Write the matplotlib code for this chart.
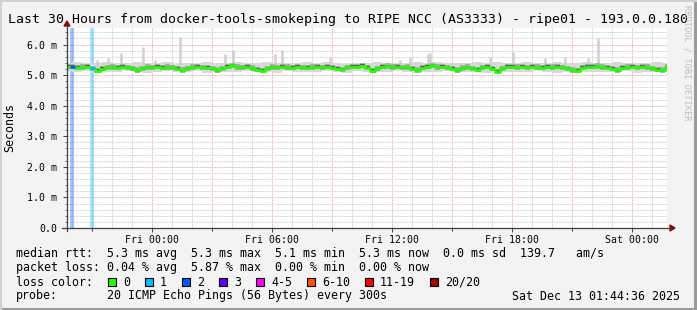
import matplotlib
matplotlib.use("Agg")
import matplotlib.pyplot as plt
from matplotlib.lines import Line2D
from matplotlib.patches import Rectangle, Polygon
import numpy as np

# ---- data (hours since Thu 19:45, values in ms) ----
median = [5.27, 5.28, 5.24, 5.26, 5.27, 5.22, 5.14, 5.20, 5.25, 5.26,
          5.24, 5.27, 5.25, 5.22, 5.16, 5.22, 5.26, 5.25, 5.27, 5.24,
          5.26, 5.25, 5.20, 5.16, 5.22, 5.26, 5.27, 5.25, 5.24, 5.22,
          5.16, 5.22, 5.27, 5.32, 5.26, 5.25, 5.27, 5.23, 5.18, 5.15,
          5.22, 5.26, 5.25, 5.27, 5.26, 5.24, 5.27, 5.25, 5.24, 5.26,
          5.28, 5.25, 5.27, 5.24, 5.20, 5.19, 5.25, 5.27, 5.28, 5.30,
          5.24, 5.15, 5.22, 5.27, 5.29, 5.26, 5.28, 5.25, 5.26, 5.21,
          5.16, 5.24, 5.27, 5.32, 5.26, 5.28, 5.25, 5.21, 5.16, 5.23,
          5.26, 5.22, 5.18, 5.25, 5.27, 5.20, 5.11, 5.22, 5.27, 5.28,
          5.26, 5.27, 5.25, 5.28, 5.26, 5.24, 5.27, 5.26, 5.28, 5.25,
          5.22, 5.16, 5.14, 5.24, 5.28, 5.27, 5.29, 5.26, 5.24, 5.20,
          5.16, 5.24, 5.26, 5.27, 5.25, 5.27, 5.26, 5.22, 5.17, 5.16,
          5.26]
loss = [0] * len(median)
loss[1] = 2
loss[5] = 1

smoke_hi = [5.40, 5.42, 5.38, 5.41, 5.44, 5.39, 5.40, 5.43, 5.38, 5.40,
            5.42, 5.37, 5.41, 5.39, 5.44, 5.40, 5.38, 5.42, 5.41, 5.39,
            5.43, 5.40, 5.38, 5.41, 5.42, 5.39, 5.44, 5.40, 5.37, 5.41,
            5.40, 5.43, 5.39, 5.41, 5.38, 5.42, 5.40, 5.44, 5.39, 5.41,
            5.38, 5.42, 5.40, 5.43, 5.39, 5.41, 5.42, 5.38, 5.40, 5.44,
            5.39, 5.41, 5.43, 5.38, 5.40, 5.42, 5.39, 5.41, 5.40, 5.43, 5.38]
smoke_lo = [5.12, 5.10, 5.13, 5.08, 5.11, 5.09, 5.12, 5.10, 5.08, 5.11,
            5.13, 5.09, 5.10, 5.12, 5.08, 5.11, 5.10, 5.09, 5.12, 5.10,
            5.11, 5.08, 5.12, 5.10, 5.09, 5.11, 5.13, 5.10, 5.08, 5.12,
            5.10, 5.11, 5.09, 5.12, 5.10, 5.08, 5.11, 5.10, 5.12, 5.09,
            5.11, 5.10, 5.08, 5.12, 5.10, 5.11, 5.09, 5.12, 5.10, 5.08,
            5.11, 5.12, 5.10, 5.09, 5.11, 5.10, 5.12, 5.08, 5.11, 5.10, 5.12]

spike_t = [1.5, 2.05, 2.7, 3.8, 4.4, 5.65, 7.9, 8.3, 10.4, 10.75, 13.15,
           16.65, 17.15, 18.05, 18.15, 21.15, 22.3, 23.9, 24.9, 26.05, 26.55]
spike_top = [5.5, 5.55, 5.73, 5.93, 5.5, 6.26, 5.7, 5.82, 5.7, 5.82, 5.6,
             5.5, 5.6, 5.7, 5.71, 5.58, 5.76, 5.55, 5.6, 5.55, 6.2]

tick_labels = ["Fri 00:00", "Fri 06:00", "Fri 12:00", "Fri 18:00", "Sat 00:00"]
tick_hours = [4.25, 10.25, 16.25, 22.25, 28.25]

loss_labels = ["0", "1", "2", "3", "4-5", "6-10", "11-19", "20/20"]
loss_colors = ["#26ff00", "#00b8ff", "#0059ff", "#5e00ff", "#ff00ff",
               "#ff5500", "#ff0000", "#a10000"]

rtt_stats = ["5.3 ms avg", "5.3 ms max", "5.1 ms min", "5.3 ms now", "0.0 ms sd", "139.7   am/s"]
loss_stats = ["0.04 % avg", "5.87 % max", "0.00 % min", "0.00 % now"]

title = "Last 30 Hours from docker-tools-smokeping to RIPE NCC (AS3333) - ripe01 - 193.0.0.180"
probe = "20 ICMP Echo Pings (56 Bytes) every 300s"
stamp = "Sat Dec 13 01:44:36 2025"

# ---- figure ----
W, H = 697, 310
MONO = "DejaVu Sans Mono"
plt.rcParams["font.family"] = MONO

fig = plt.figure(figsize=(W / 100, H / 100), dpi=100, facecolor="#f3f3f3")


def fx(px):
    return px / W


def fy(py):
    return 1 - py / H


ax = fig.add_axes([fx(67), fy(228), fx(667) - fx(67), fy(28) - fy(228)])
ax.set_facecolor("white")
ax.set_xlim(0, 30)
ax.set_ylim(0, 6.54)

# grid
minor_c, major_c = "#d6d6d6", "#ecbcbc"
dash = (0, (2, 1))
for h in np.arange(0.25, 30, 1.0):
    if abs((h - 1.25) % 3) > 0.01:
        ax.axvline(h, color=minor_c, lw=0.72, ls=dash, zorder=0)
for h in np.arange(1.25, 30, 3.0):
    ax.axvline(h, color=major_c, lw=0.72, ls=dash, zorder=0)
for v in np.arange(0.2, 6.54, 0.2):
    if abs(v - round(v)) > 0.01:
        ax.axhline(v, color=minor_c, lw=0.72, ls=dash, zorder=0)
for v in range(1, 7):
    ax.axhline(v, color=major_c, lw=0.72, ls=dash, zorder=0)

# loss bars
t_med = np.linspace(0, 30, len(median))
for t, l in zip(t_med, loss):
    if l > 0:
        ax.axvspan(t - 0.1, t + 0.1, color=loss_colors[l], alpha=0.35, lw=0, zorder=1)

# smoke
t_smoke = np.linspace(0, 30, len(smoke_hi))
ax.fill_between(t_smoke, smoke_lo, smoke_hi, step="mid", color="#d8d8d8", lw=0, zorder=2)
ax.vlines(spike_t, 5.3, spike_top, color="#d0d0d0", lw=1.8, zorder=2)
med = np.array(median)
ax.fill_between(t_med, med - 0.08, med + 0.09, step="mid", color="#ababab", lw=0, zorder=3)
ax.fill_between(t_med, med - 0.045, med + 0.05, step="mid", color="#626262", lw=0, zorder=3)

# median line coloured by loss
ax.plot(t_med, med, drawstyle="steps-mid", color=loss_colors[0], lw=2.0, zorder=4)
for i, l in enumerate(loss):
    if l > 0:
        ax.plot([t_med[i] - 0.125, t_med[i] + 0.125], [med[i], med[i]],
                color=loss_colors[l], lw=2.0, zorder=5, solid_capstyle="butt")

# axes / ticks
for s in ax.spines.values():
    s.set_visible(False)
ax.set_yticks(range(0, 7))
ax.set_yticklabels(["0.0"] + [f"{v:.1f} m" for v in range(1, 7)])
ax.set_yticks(np.arange(0, 6.54, 0.2), minor=True)
ax.set_xticks(np.arange(1.25, 30, 3.0), minor=True)
ax.set_xticks(tick_hours)
ax.set_xticklabels(tick_labels)
ax.tick_params(axis="both", which="major", labelsize=7.1, color="#404040",
               length=3, width=0.72, direction="out", pad=2)
ax.tick_params(axis="y", which="minor", length=1.5, width=0.6, color="#606060")
ax.tick_params(axis="x", which="minor", length=2, width=0.72, color="#404040")
ax.tick_params(axis="y", which="major", pad=4)

# axis lines with arrows
axis_c = "#404040"
fig.add_artist(Line2D([fx(62), fx(670)], [fy(228), fy(228)], color=axis_c, lw=0.9))
fig.add_artist(Line2D([fx(67), fx(67)], [fy(231), fy(26)], color=axis_c, lw=0.9))
fig.add_artist(Polygon([[fx(670), fy(225)], [fx(670), fy(231)], [fx(675), fy(228)]],
                       closed=True, color="#7a1010"))
fig.add_artist(Polygon([[fx(64), fy(26)], [fx(70), fy(26)], [fx(67), fy(21)]],
                       closed=True, color="#7a1010"))

fig.text(fx(10), fy(128), "Seconds", rotation=90, fontsize=8.4, ha="center", va="center")

# title
fig.text(fx(8), fy(19), title, fontsize=9.5, ha="left", va="center")
fig.text(fx(687), fy(5), "RRDTOOL / TOBI OETIKER", rotation=270, fontsize=6.2,
         color="#bdbdbd", ha="center", va="top")

# legend text
fs = 8.4
fig.text(fx(16), fy(254), "median rtt:  " + "  ".join(rtt_stats), fontsize=fs, va="center")
fig.text(fx(16), fy(268), "packet loss: " + "  ".join(loss_stats), fontsize=fs, va="center")
fig.text(fx(16), fy(282), "loss color:", fontsize=fs, va="center")
x = 108
for lab, col in zip(loss_labels, loss_colors):
    fig.add_artist(Rectangle((fx(x), fy(286)), fx(8), 8 / H, facecolor=col,
                             edgecolor="black", lw=0.8))
    fig.text(fx(x + 15), fy(282), lab, fontsize=fs, va="center")
    x += 15 + 7 * len(lab) + 15
fig.text(fx(16), fy(296), "probe:", fontsize=fs, va="center")
fig.text(fx(107), fy(296), probe, fontsize=fs, va="center")
fig.text(fx(680), fy(296), stamp, fontsize=fs, va="center", ha="right")

# 3d frame
fig.add_artist(Rectangle((0, 0), 1, 2 / H, color="#9a9a9a", lw=0))
fig.add_artist(Rectangle((1 - 3 / W, 0), 3 / W, 1, color="#9a9a9a", lw=0))
fig.add_artist(Rectangle((0, 1 - 2 / H), 1, 2 / H, color="#d0d0d0", lw=0))
fig.add_artist(Rectangle((0, 0), 2 / W, 1, color="#d0d0d0", lw=0))

fig.savefig("out.png", dpi=100, facecolor=fig.get_facecolor())
